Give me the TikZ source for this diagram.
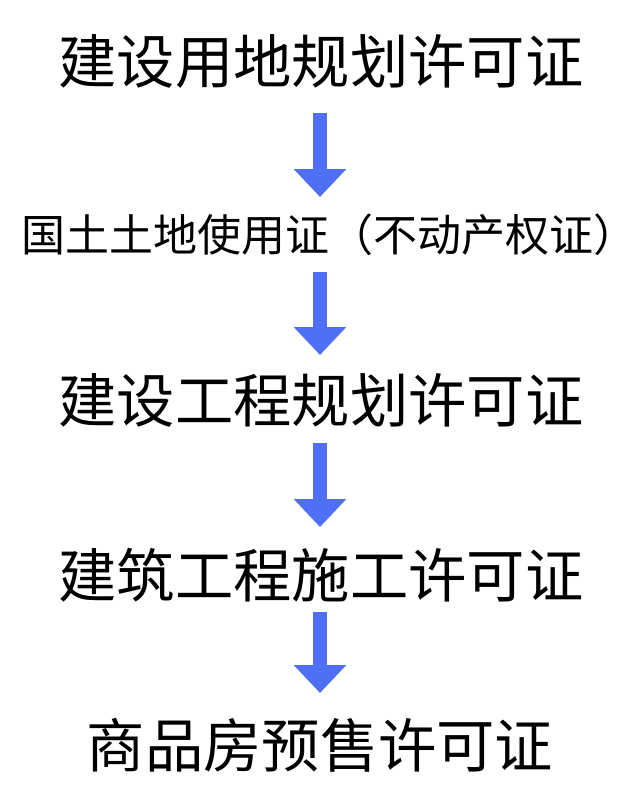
\documentclass[tikz,border=0pt]{standalone}
\usepackage{fontspec}
\setmainfont{Noto Sans CJK SC}
\usetikzlibrary{arrows.meta}
\definecolor{arrowblue}{RGB}{79,111,246}
\tikzset{
  bigtext/.style={font=\fontsize{58.3}{60}\selectfont, inner sep=0pt, anchor=center},
  midtext/.style={font=\fontsize{44}{46}\selectfont, inner sep=0pt, anchor=center},
  blockarrow/.style={draw=arrowblue, line width=14pt, -{Triangle[width=51pt,length=28pt]}},
}
\begin{document}
\begin{tikzpicture}[x=1pt,y=-1pt]
\useasboundingbox (0,0) rectangle (640,800);
\fill[white] (0,0) rectangle (640,800);
\node[bigtext] (t1) at (321,61) {建设用地规划许可证};
\node[midtext] (t2) at (329,235) {国土土地使用证（不动产权证）};
\node[bigtext] (t3) at (321,400) {建设工程规划许可证};
\node[bigtext] (t4) at (321,575) {建筑工程施工许可证};
\node[bigtext] (t5) at (320,745) {商品房预售许可证};
\coordinate (a1s) at (320,113); \coordinate (a1e) at (320,197);
\coordinate (a2s) at (320,272); \coordinate (a2e) at (320,355);
\coordinate (a3s) at (320,443); \coordinate (a3e) at (320,527);
\coordinate (a4s) at (320,612); \coordinate (a4e) at (320,693);
\draw[blockarrow] (a1s) -- (a1e);
\draw[blockarrow] (a2s) -- (a2e);
\draw[blockarrow] (a3s) -- (a3e);
\draw[blockarrow] (a4s) -- (a4e);
\end{tikzpicture}
\end{document}
